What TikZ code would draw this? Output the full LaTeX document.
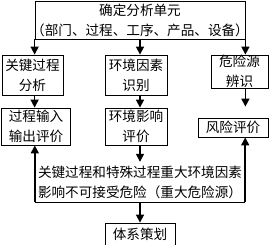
\documentclass[tikz,border=0pt]{standalone}
\usepackage{fontspec}
\newfontfamily\cjk{Noto Sans CJK SC}
\usetikzlibrary{arrows.meta}
\begin{document}
\begin{tikzpicture}[x=1pt,y=-1pt,
  box/.style={draw, line width=0.8pt, inner sep=0pt, align=center, font=\cjk\fontsize{13.6}{20}\selectfont},
  txt/.style={inner sep=0pt, align=center, font=\cjk\fontsize{13.6}{20}\selectfont},
  arr/.style={line width=1.6pt, -{Triangle[width=8pt,length=8pt]}}]
\useasboundingbox (0,0) rectangle (270,245);
% Unit
\node[box, minimum width=210pt, minimum height=38pt] (top) at (140,20) {确定分析单元\\\makebox[200pt]{（部门、过程、工序、产品、设备）}};

% First row
\node[box, minimum width=61pt, minimum height=40pt] (key) at (32.5,75) {关键过程\\分析};
\node[box, minimum width=62pt, minimum height=40pt] (env) at (136,75) {环境因素\\识别};
\node[box, minimum width=57pt, minimum height=33pt] (haz) at (239.5,71.5) {危险源\\辨识};

% Second row
\node[box, minimum width=69pt, minimum height=37pt] (io) at (36,126.5) {过程输入\\输出评价};
\node[box, minimum width=62pt, minimum height=37pt] (imp) at (136,126.5) {环境影响\\评价};
\node[box, minimum width=70pt, minimum height=19pt] (risk) at (233,127.5) {风险评价};

% Result
\node[txt, minimum width=210pt, minimum height=40pt] (res) at (140,182) {关键过程和特殊过程重大环境因素\\影响不可接受危险（重大危险源）};
\node[box, minimum width=70pt, minimum height=22pt] (plan) at (140,234) {体系策划};

% Arrows
\draw[arr] (top.south west) -- (key.north -| top.west);
\draw[arr] (top.south) -- (env.north -| top.south);
\draw[arr] (top.south east) -- (haz.north -| top.east);
\draw[arr] (key.south -| top.west) -- (io.north -| top.west);
\draw[arr] (env.south -| top.south) -- (imp.north -| top.south);
\draw[arr, shorten >=11pt] (haz.south -| top.east) -- (risk.north -| top.east);
\draw[arr] (imp.south -| res.north) -- (res.north);
\draw[line width=0.8pt] (res.south west) -- (res.south east);
\draw[arr] (res.south west) -- (io.south -| res.west);
\draw[arr] (res.south east) -- (risk.south -| res.east);
\draw[arr] (res.south) -- (plan.north);
\end{tikzpicture}
\end{document}
